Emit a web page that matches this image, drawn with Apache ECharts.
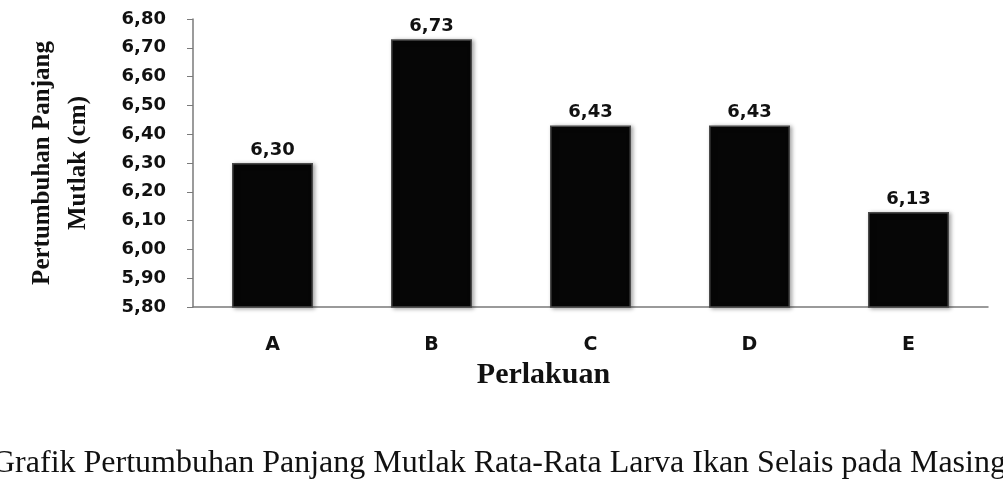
<!DOCTYPE html>
<html>
<head>
<meta charset="utf-8">
<script src="https://cdn.jsdelivr.net/npm/echarts@6/dist/echarts.min.js"></script>
<style>
  html, body { margin: 0; padding: 0; background: #fff; }
  #chart { width: 1003px; height: 480px; }
</style>
</head>
<body>
<div id="chart"></div>
<script>
// data
var categories = ['A', 'B', 'C', 'D', 'E'];
var panjang = [6.30, 6.73, 6.43, 6.43, 6.13];
var yMin = 5.8, yMax = 6.8, yStep = 0.1;

function koma(v, d) {
    return Number(v).toFixed(d).replace('.', ',');
}

var chart = echarts.init(document.getElementById('chart'));
chart.setOption({
    backgroundColor: '#fff',
    animation: false,
    grid: { left: 193, right: 15, top: 19, bottom: 173 },
    xAxis: {
        type: 'category',
        data: categories,
        name: 'Perlakuan',
        nameLocation: 'middle',
        nameGap: 46,
        nameTextStyle: {
            fontFamily: 'Liberation Serif',
            fontWeight: 'bold',
            fontSize: 30,
            color: '#111',
            padding: [0, 94, 0, 0]
        },
        axisLine: { lineStyle: { color: '#7a7a7a', width: 1.5 } },
        axisTick: { alignWithLabel: true, length: 5, lineStyle: { color: '#7a7a7a' } },
        axisLabel: {
            margin: 29,
            fontFamily: 'DejaVu Sans',
            fontWeight: 'bold',
            fontSize: 19,
            color: '#111'
        }
    },
    yAxis: {
        type: 'value',
        min: yMin,
        max: yMax,
        interval: yStep,
        name: 'Pertumbuhan Panjang\nMutlak (cm)',
        nameLocation: 'middle',
        nameGap: 96,
        nameRotate: 90,
        nameTextStyle: {
            fontFamily: 'Liberation Serif',
            fontWeight: 'bold',
            fontSize: 25,
            lineHeight: 36,
            color: '#111'
        },
        axisLine: { show: true, lineStyle: { color: '#7a7a7a', width: 1.5 } },
        axisTick: { show: true, length: 6, lineStyle: { color: '#7a7a7a' } },
        splitLine: { show: false },
        axisLabel: {
            margin: 27,
            fontFamily: 'DejaVu Sans',
            fontWeight: 'bold',
            fontSize: 18,
            color: '#111',
            formatter: function (v) { return koma(v, 2); }
        }
    },
    series: [{
        type: 'bar',
        data: panjang,
        barWidth: 81,
        itemStyle: {
            color: '#060606',
            borderColor: '#4a4a4a',
            borderWidth: 1.5,
            shadowBlur: 4,
            shadowColor: 'rgba(0,0,0,0.35)',
            shadowOffsetX: 2,
            shadowOffsetY: 1
        },
        label: {
            show: true,
            position: 'top',
            distance: 4,
            fontFamily: 'DejaVu Sans',
            fontWeight: 'bold',
            fontSize: 18,
            color: '#111',
            formatter: function (p) { return koma(p.value, 2); }
        }
    }],
    graphic: [{
        type: 'text',
        left: -8,
        top: 448,
        style: {
            text: 'Grafik Pertumbuhan Panjang Mutlak Rata-Rata Larva Ikan Selais pada Masing-masing Perlakuan',
            fontFamily: 'Liberation Serif',
            fontSize: 32,
            fill: '#111'
        }
    }]
});
</script>
</body>
</html>
